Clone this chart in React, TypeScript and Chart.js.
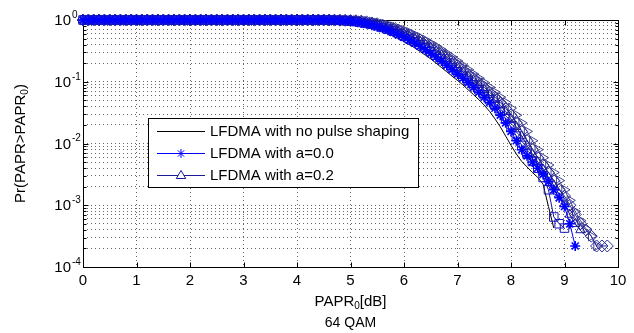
import { useEffect, useRef } from 'react';
import { Chart, registerables } from 'chart.js';

Chart.register(...registerables);

const FONT = '"Liberation Sans", Arial, Helvetica, sans-serif';

// PAPR0 grid in dB
const PAPR_DB = [
  0.0, 0.1, 0.2, 0.3, 0.4, 0.5, 0.6, 0.7, 0.8, 0.9,
  1.0, 1.1, 1.2, 1.3, 1.4, 1.5, 1.6, 1.7, 1.8, 1.9,
  2.0, 2.1, 2.2, 2.3, 2.4, 2.5, 2.6, 2.7, 2.8, 2.9,
  3.0, 3.1, 3.2, 3.3, 3.4, 3.5, 3.6, 3.7, 3.8, 3.9,
  4.0, 4.1, 4.2, 4.3, 4.4, 4.5, 4.6, 4.7, 4.8, 4.9,
  5.0, 5.1, 5.2, 5.3, 5.4, 5.5, 5.6, 5.7, 5.8, 5.9,
  6.0, 6.1, 6.2, 6.3, 6.4, 6.5, 6.6, 6.7, 6.8, 6.9,
  7.0, 7.1, 7.2, 7.3, 7.4, 7.5, 7.6, 7.7, 7.8, 7.9,
  8.0, 8.1, 8.2, 8.3, 8.4, 8.5, 8.6, 8.7, 8.8, 8.9,
  9.0, 9.1, 9.2, 9.3, 9.4, 9.5, 9.6, 9.7, 9.8,
];

// LFDMA with no pulse shaping (black line)
const NO_PULSE = [
  1, 1, 1, 1, 1, 1, 1, 1, 1, 1, 1, 1, 1, 1, 1,
  1, 1, 1, 1, 1, 1, 1, 1, 1, 1, 1, 1, 1, 1, 1,
  1, 1, 1, 1, 1, 1, 1, 1, 1, 1, 1, 1, 1, 1, 1,
  0.99, 0.985, 0.975, 0.96, 0.94,
  0.912, 0.881, 0.851, 0.804, 0.759, 0.708, 0.661, 0.603, 0.55, 0.501,
  0.447, 0.398, 0.355, 0.309, 0.269, 0.234, 0.2, 0.17, 0.145, 0.123,
  0.105, 0.0891, 0.0741, 0.0617, 0.0513, 0.0417, 0.0331, 0.0251, 0.0186, 0.0132,
  0.00933, 0.00676, 0.00513, 0.00417, 0.00339, 0.00282, 0.00219, 0.000955, 0.000427,
];

// LFDMA with a=0.0 (stars)
const ALPHA_00 = [
  1, 1, 1, 1, 1, 1, 1, 1, 1, 1, 1, 1, 1, 1, 1,
  1, 1, 1, 1, 1, 1, 1, 1, 1, 1, 1, 1, 1, 1, 1,
  1, 1, 1, 1, 1, 1, 1, 1, 1, 1, 1, 1, 1, 1, 1,
  0.998, 0.995, 0.99, 0.98, 0.97,
  0.955, 0.933, 0.896, 0.867, 0.826, 0.78, 0.733, 0.684, 0.631, 0.575,
  0.525, 0.473, 0.422, 0.376, 0.331, 0.288, 0.251, 0.216, 0.184, 0.157,
  0.133, 0.114, 0.0966, 0.0813, 0.0676, 0.0562, 0.0462, 0.0372, 0.0288, 0.0216,
  0.0157, 0.0111, 0.00794, 0.00631, 0.00501, 0.00398, 0.00316, 0.0024, 0.00178, 0.00132,
  0.000955, 0.000501, 0.000219,
];

// LFDMA with a=0.2 (up triangles)
const ALPHA_02 = [
  1, 1, 1, 1, 1, 1, 1, 1, 1, 1, 1, 1, 1, 1, 1,
  1, 1, 1, 1, 1, 1, 1, 1, 1, 1, 1, 1, 1, 1, 1,
  1, 1, 1, 1, 1, 1, 1, 1, 1, 1, 1, 1, 1, 1, 1,
  1, 0.998, 0.995, 0.99, 0.985,
  0.977, 0.966, 0.944, 0.912, 0.881, 0.851, 0.804, 0.759, 0.708, 0.661,
  0.603, 0.55, 0.501, 0.447, 0.398, 0.355, 0.309, 0.269, 0.234, 0.2,
  0.17, 0.145, 0.123, 0.105, 0.0891, 0.0741, 0.0617, 0.0513, 0.0417, 0.0331,
  0.0251, 0.0186, 0.0132, 0.00933, 0.00676, 0.00501, 0.0038, 0.00282, 0.00209, 0.00151,
  0.00105, 0.000708, 0.000501, 0.000398,
];

// further curves (squares)
const SQUARES = [
  1, 1, 1, 1, 1, 1, 1, 1, 1, 1, 1, 1, 1, 1, 1,
  1, 1, 1, 1, 1, 1, 1, 1, 1, 1, 1, 1, 1, 1, 1,
  1, 1, 1, 1, 1, 1, 1, 1, 1, 1, 1, 1, 1, 1, 1,
  0.999, 0.996, 0.99, 0.985, 0.975,
  0.96, 0.94, 0.912, 0.881, 0.851, 0.804, 0.759, 0.708, 0.661, 0.603,
  0.55, 0.501, 0.447, 0.398, 0.355, 0.309, 0.269, 0.234, 0.2, 0.17,
  0.145, 0.123, 0.105, 0.0891, 0.0741, 0.0617, 0.0513, 0.0417, 0.0331, 0.0251,
  0.0186, 0.0132, 0.00933, 0.00676, 0.00513, 0.00398, 0.00282, 0.00178, 0.000646, 0.000501,
  0.000427,
];

// further curves (diamonds)
const DIAMONDS = [
  1, 1, 1, 1, 1, 1, 1, 1, 1, 1, 1, 1, 1, 1, 1,
  1, 1, 1, 1, 1, 1, 1, 1, 1, 1, 1, 1, 1, 1, 1,
  1, 1, 1, 1, 1, 1, 1, 1, 1, 1, 1, 1, 1, 1, 1,
  1, 0.999, 0.997, 0.994, 0.99,
  0.982, 0.973, 0.959, 0.933, 0.896, 0.867, 0.826, 0.78, 0.733, 0.684,
  0.631, 0.575, 0.525, 0.473, 0.422, 0.376, 0.331, 0.288, 0.251, 0.216,
  0.184, 0.157, 0.133, 0.114, 0.0966, 0.0813, 0.0676, 0.0562, 0.0462, 0.0372,
  0.0288, 0.0216, 0.0157, 0.0111, 0.00794, 0.00589, 0.00447, 0.00339, 0.00251, 0.00178,
  0.00141, 0.001, 0.000708, 0.000501, 0.000398, 0.000316, 0.000219, 0.000219, 0.000219,
];

// further curves (right-pointing triangles)
const RIGHT_TRI = [
  1, 1, 1, 1, 1, 1, 1, 1, 1, 1, 1, 1, 1, 1, 1,
  1, 1, 1, 1, 1, 1, 1, 1, 1, 1, 1, 1, 1, 1, 1,
  1, 1, 1, 1, 1, 1, 1, 1, 1, 1, 1, 1, 1, 1, 1,
  1, 1, 0.999, 0.997, 0.994,
  0.989, 0.982, 0.973, 0.959, 0.933, 0.896, 0.867, 0.826, 0.78, 0.733,
  0.684, 0.631, 0.575, 0.525, 0.473, 0.422, 0.376, 0.331, 0.288, 0.251,
  0.216, 0.184, 0.157, 0.133, 0.114, 0.0966, 0.0813, 0.0676, 0.0562, 0.0462,
  0.0372, 0.0288, 0.0216, 0.0157, 0.0111, 0.00794, 0.00589, 0.00447, 0.00339, 0.00251,
  0.00178, 0.0012, 0.000794, 0.000562, 0.000417, 0.000316, 0.000219,
];

const X_TICKS = [0, 1, 2, 3, 4, 5, 6, 7, 8, 9, 10];
const Y_TICKS = [
  0.0001, 0.0002, 0.0003, 0.0004, 0.0005, 0.0006, 0.0007, 0.0008, 0.0009,
  0.001, 0.002, 0.003, 0.004, 0.005, 0.006, 0.007, 0.008, 0.009,
  0.01, 0.02, 0.03, 0.04, 0.05, 0.06, 0.07, 0.08, 0.09,
  0.1, 0.2, 0.3, 0.4, 0.5, 0.6, 0.7, 0.8, 0.9,
  1,
];
const DECADES = [1, 0.1, 0.01, 0.001, 0.0001];
const DECADE_EXP = ['0', '-1', '-2', '-3', '-4'];

const LEGEND_LABELS = [
  'LFDMA with no pulse shaping',
  'LFDMA with a=0.0',
  'LFDMA with a=0.2',
];
const X_TITLE = ['PAPR', '0', '[dB]'];
const Y_TITLE = ['Pr(PAPR>PAPR', '0', ')'];
const CHART_TITLE = '64 QAM';

const BLUE = '#0000ff';
const NAVY = '#1c1c96';

function pts(vals: number[]) {
  return vals.map((y, i) => ({ x: PAPR_DB[i], y }));
}

function drawSubText(ctx: CanvasRenderingContext2D, parts: string[], cx: number, cy: number, size: number) {
  const big = `${size}px ${FONT}`;
  const small = `${Math.round(size * 0.68)}px ${FONT}`;
  ctx.font = big;
  const w1 = ctx.measureText(parts[0]).width;
  const w3 = ctx.measureText(parts[2]).width;
  ctx.font = small;
  const w2 = ctx.measureText(parts[1]).width;
  let x = cx - (w1 + w2 + w3) / 2;
  ctx.textAlign = 'left';
  ctx.textBaseline = 'middle';
  ctx.font = big;
  ctx.fillText(parts[0], x, cy);
  x += w1;
  ctx.font = small;
  ctx.fillText(parts[1], x, cy + 4);
  x += w2;
  ctx.font = big;
  ctx.fillText(parts[2], x, cy);
}

const decorPlugin = {
  id: 'decor',
  beforeDatasetsDraw(chart: any) {
    const { ctx, chartArea: a, scales } = chart;
    const xs = scales.x;
    const ys = scales.y;
    ctx.save();
    ctx.strokeStyle = '#000';
    ctx.lineWidth = 1;
    ctx.setLineDash([]);
    const L = Math.round(a.left) + 0.5;
    const R = Math.round(a.right) + 0.5;
    const T = Math.round(a.top) + 0.5;
    const B = Math.round(a.bottom) + 0.5;
    ctx.strokeRect(L, T, R - L, B - T);
    ctx.beginPath();
    X_TICKS.forEach((v) => {
      const px = Math.round(xs.getPixelForValue(v)) + 0.5;
      ctx.moveTo(px, B);
      ctx.lineTo(px, B - 5);
      ctx.moveTo(px, T);
      ctx.lineTo(px, T + 5);
    });
    Y_TICKS.forEach((v) => {
      const py = Math.round(ys.getPixelForValue(v)) + 0.5;
      const len = DECADES.includes(v) ? 5 : 3;
      ctx.moveTo(L, py);
      ctx.lineTo(L + len, py);
      ctx.moveTo(R, py);
      ctx.lineTo(R - len, py);
    });
    ctx.stroke();
    ctx.restore();
  },
  afterDatasetsDraw(chart: any) {
    const { ctx, chartArea: a, scales } = chart;
    const ys = scales.y;
    ctx.save();
    ctx.fillStyle = '#000';
    // y tick labels 10^k
    DECADES.forEach((v, i) => {
      const py = ys.getPixelForValue(v);
      ctx.font = `15px ${FONT}`;
      ctx.textAlign = 'right';
      ctx.textBaseline = 'middle';
      ctx.fillText('10', 71, py + 1);
      ctx.font = `10px ${FONT}`;
      ctx.textAlign = 'left';
      ctx.fillText(DECADE_EXP[i], 72, py - 5);
    });
    const cx = (a.left + a.right) / 2;
    // x title
    drawSubText(ctx, X_TITLE, cx, 302, 15);
    // chart title (below)
    ctx.font = `14px ${FONT}`;
    ctx.textAlign = 'center';
    ctx.textBaseline = 'middle';
    ctx.fillText(CHART_TITLE, cx, 323);
    // y title
    ctx.save();
    ctx.translate(21, (a.top + a.bottom) / 2);
    ctx.rotate(-Math.PI / 2);
    drawSubText(ctx, Y_TITLE, 0, 0, 15);
    ctx.restore();

    // legend
    const bx = 148.5, by = 118.5, bw = 270, bh = 69;
    ctx.fillStyle = '#fff';
    ctx.fillRect(bx, by, bw, bh);
    ctx.strokeStyle = '#000';
    ctx.lineWidth = 1;
    ctx.strokeRect(bx, by, bw, bh);
    const rows = [131, 153, 175];
    const colors = ['#000', BLUE, NAVY];
    rows.forEach((ry, i) => {
      const y = Math.round(ry) + 0.5;
      ctx.strokeStyle = colors[i];
      ctx.beginPath();
      ctx.moveTo(157, y);
      ctx.lineTo(205, y);
      ctx.stroke();
      const mx = 181;
      if (i === 1) {
        const r = 4.5;
        ctx.beginPath();
        ctx.moveTo(mx - r, y); ctx.lineTo(mx + r, y);
        ctx.moveTo(mx, y - r); ctx.lineTo(mx, y + r);
        const d = r * 0.707;
        ctx.moveTo(mx - d, y - d); ctx.lineTo(mx + d, y + d);
        ctx.moveTo(mx - d, y + d); ctx.lineTo(mx + d, y - d);
        ctx.stroke();
      } else if (i === 2) {
        const r = 5;
        ctx.beginPath();
        ctx.moveTo(mx, y - r);
        ctx.lineTo(mx + r * 0.95, y + r * 0.6);
        ctx.lineTo(mx - r * 0.95, y + r * 0.6);
        ctx.closePath();
        ctx.fillStyle = '#fff';
        ctx.fill();
        ctx.stroke();
      }
      ctx.fillStyle = '#000';
      ctx.font = `15px ${FONT}`;
      ctx.textAlign = 'left';
      ctx.textBaseline = 'middle';
      ctx.fillText(LEGEND_LABELS[i], 210, ry + 1);
    });
    ctx.restore();
  },
};

export default function App() {
  const ref = useRef<HTMLCanvasElement | null>(null);
  useEffect(() => {
    document.body.style.margin = '0';
    const canvas = ref.current;
    if (!canvas) return;
    const common = { showLine: true, borderWidth: 1, clip: false as any, pointBackgroundColor: 'rgba(0,0,0,0)' };
    const chart = new Chart(canvas, {
      type: 'scatter',
      data: {
        datasets: [
          { ...common, label: LEGEND_LABELS[1], data: pts(ALPHA_00), borderColor: BLUE, pointBorderColor: BLUE, pointStyle: 'star', pointRadius: 5, pointBorderWidth: 1.6 },
          { ...common, label: 'a4', data: pts(SQUARES), borderColor: '#1414b4', pointBorderColor: '#1414b4', pointStyle: 'rect', pointRadius: 6, pointBorderWidth: 1 },
          { ...common, label: LEGEND_LABELS[2], data: pts(ALPHA_02), borderColor: NAVY, pointBorderColor: NAVY, pointStyle: 'triangle', pointRadius: 5.5, pointBorderWidth: 1 },
          { ...common, label: 'a6', data: pts(DIAMONDS), borderColor: '#2a2a9a', pointBorderColor: '#2a2a9a', pointStyle: 'rectRot', pointRadius: 6, pointBorderWidth: 1 },
          { ...common, label: 'a8', data: pts(RIGHT_TRI), borderColor: '#40408f', pointBorderColor: '#40408f', pointStyle: 'triangle', pointRotation: 90, pointRadius: 5.5, pointBorderWidth: 1 },
          { ...common, label: LEGEND_LABELS[0], data: pts(NO_PULSE), borderColor: '#000', pointRadius: 0 },
        ],
      },
      options: {
        animation: false,
        responsive: false,
        devicePixelRatio: 1,
        layout: { padding: { left: 0, right: 16, top: 20, bottom: 0 } },
        plugins: { legend: { display: false }, tooltip: { enabled: false }, title: { display: false } },
        elements: { line: { tension: 0 } },
        scales: {
          x: {
            type: 'linear',
            min: 0,
            max: 10,
            afterBuildTicks: (s: any) => { s.ticks = X_TICKS.map((v) => ({ value: v })); },
            afterFit: (s: any) => { s.height = 66; },
            ticks: { color: '#000', font: { size: 15, family: FONT }, padding: 5, maxRotation: 0, autoSkip: false },
            grid: { color: 'rgba(0,0,0,0.6)', lineWidth: 1, drawTicks: false },
            border: { display: false, dash: [1, 3] },
          },
          y: {
            type: 'logarithmic',
            min: 0.0001,
            max: 1,
            afterBuildTicks: (s: any) => { s.ticks = Y_TICKS.map((v) => ({ value: v })); },
            afterFit: (s: any) => { s.width = 83; },
            ticks: { display: false },
            grid: { color: 'rgba(0,0,0,0.6)', lineWidth: 1, drawTicks: false },
            border: { display: false, dash: [1, 3] },
          },
        },
      },
      plugins: [decorPlugin],
    });
    return () => chart.destroy();
  }, []);
  return (
    <div style={{ position: 'fixed', left: 0, top: 0, width: 634, height: 333, background: '#fff' }}>
      <canvas ref={ref} width={634} height={333} style={{ width: 634, height: 333 }} />
    </div>
  );
}
